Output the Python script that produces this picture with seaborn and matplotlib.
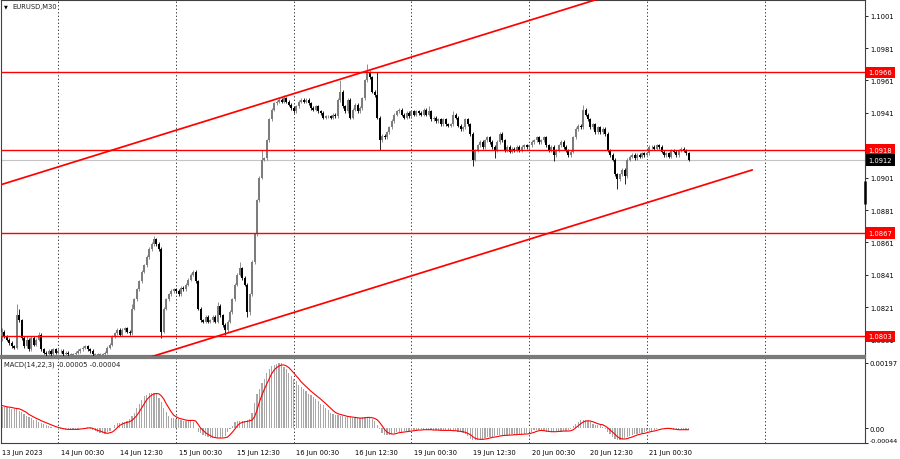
import matplotlib
matplotlib.use("Agg")
import matplotlib.pyplot as plt
import matplotlib.transforms as mtransforms
import numpy as np
import seaborn as sns

# ---------------- data (EURUSD M30) ----------------
first_open = 1.0803
closes = [
    1.0806, 1.0803, 1.0801, 1.0799, 1.0797, 1.0796, 1.0816, 1.0813, 1.0802, 1.0797, 1.0801, 1.0795,
    1.0802, 1.0798, 1.0801, 1.0804, 1.0795, 1.0793, 1.0792, 1.0794, 1.0792, 1.0795, 1.0793, 1.0794,
    1.0794, 1.0792, 1.0793, 1.0792, 1.0792, 1.0792, 1.0793, 1.0794, 1.0795, 1.0796, 1.0797, 1.0795,
    1.0794, 1.0792, 1.0792, 1.0792, 1.0792, 1.0792, 1.0793, 1.0796, 1.0798, 1.0803, 1.0805, 1.0807,
    1.0804, 1.0807, 1.0808, 1.0806, 1.0805, 1.0820, 1.0826, 1.0832, 1.0837, 1.0843, 1.0847, 1.0852,
    1.0857, 1.0860, 1.0863, 1.0860, 1.0857, 1.0806, 1.0820, 1.0826, 1.0829, 1.0831, 1.0832, 1.0831,
    1.0829, 1.0833, 1.0832, 1.0835, 1.0838, 1.0841, 1.0843, 1.0837, 1.0820, 1.0813, 1.0812, 1.0815,
    1.0812, 1.0813, 1.0815, 1.0812, 1.0822, 1.0816, 1.0810, 1.0807, 1.0812, 1.0818, 1.0826, 1.0835,
    1.0841, 1.0845, 1.0839, 1.0835, 1.0818, 1.0829, 1.0849, 1.0866, 1.0887, 1.0901, 1.0912, 1.0913,
    1.0924, 1.0937, 1.0943, 1.0947, 1.0948, 1.0949, 1.0948, 1.0950, 1.0948, 1.0946, 1.0944, 1.0942,
    1.0945, 1.0948, 1.0949, 1.0948, 1.0949, 1.0947, 1.0944, 1.0943, 1.0945, 1.0942, 1.0941, 1.0938,
    1.0939, 1.0939, 1.0938, 1.0940, 1.0939, 1.0949, 1.0954, 1.0945, 1.0942, 1.0949, 1.0938, 1.0943,
    1.0946, 1.0942, 1.0944, 1.0950, 1.0961, 1.0966, 1.0963, 1.0954, 1.0952, 1.0938, 1.0924, 1.0927,
    1.0926, 1.0929, 1.0932, 1.0936, 1.0940, 1.0942, 1.0943, 1.0940, 1.0938, 1.0941, 1.0939, 1.0942,
    1.0940, 1.0942, 1.0941, 1.0940, 1.0943, 1.0940, 1.0942, 1.0937, 1.0938, 1.0936, 1.0937, 1.0934,
    1.0937, 1.0934, 1.0933, 1.0934, 1.0940, 1.0938, 1.0933, 1.0931, 1.0932, 1.0937, 1.0934, 1.0928,
    1.0912, 1.0918, 1.0921, 1.0923, 1.0920, 1.0924, 1.0926, 1.0923, 1.0920, 1.0918, 1.0923, 1.0928,
    1.0924, 1.0918, 1.0920, 1.0917, 1.0919, 1.0918, 1.0920, 1.0918, 1.0920, 1.0921, 1.0920, 1.0921,
    1.0923, 1.0924, 1.0926, 1.0923, 1.0924, 1.0926, 1.0921, 1.0918, 1.0920, 1.0915, 1.0918, 1.0921,
    1.0923, 1.0920, 1.0918, 1.0915, 1.0917, 1.0926, 1.0931, 1.0933, 1.0932, 1.0943, 1.0940, 1.0937,
    1.0932, 1.0934, 1.0929, 1.0932, 1.0929, 1.0931, 1.0928, 1.0918, 1.0915, 1.0912, 1.0903, 1.0900,
    1.0903, 1.0906, 1.0902, 1.0912, 1.0914, 1.0915, 1.0913, 1.0915, 1.0914, 1.0916, 1.0915, 1.0916,
    1.0920, 1.0920, 1.0919, 1.0921, 1.0920, 1.0917, 1.0915, 1.0916, 1.0914, 1.0918, 1.0917, 1.0915,
    1.0918, 1.0919, 1.0918, 1.0916, 1.0912,
]
upper_wick_pips = [
    2, 1, 1, 1, 1, 1, 7, 4, 1, 1, 2, 1,
    1, 1, 1, 2, 1, 1, 1, 1, 1, 1, 1, 1,
    1, 1, 1, 1, 1, 1, 1, 1, 1, 1, 1, 1,
    1, 1, 1, 1, 1, 1, 1, 1, 1, 1, 1, 1,
    1, 1, 1, 1, 1, 3, 1, 1, 1, 1, 1, 1,
    1, 1, 2, 1, 1, 1, 1, 1, 1, 1, 1, 1,
    1, 1, 1, 1, 1, 1, 1, 1, 1, 1, 1, 1,
    1, 1, 1, 1, 2, 1, 1, 1, 1, 1, 1, 1,
    1, 4, 1, 1, 1, 1, 1, 1, 1, 1, 6, 1,
    1, 1, 1, 1, 1, 1, 1, 2, 1, 1, 1, 1,
    1, 1, 1, 1, 1, 1, 1, 1, 1, 1, 1, 1,
    1, 1, 1, 1, 1, 1, 7, 1, 1, 1, 1, 1,
    1, 1, 1, 1, 1, 5, 1, 1, 1, 14, 1, 1,
    1, 1, 1, 1, 1, 1, 1, 1, 1, 1, 1, 1,
    1, 1, 1, 1, 1, 1, 3, 1, 1, 1, 1, 1,
    1, 1, 1, 1, 2, 1, 1, 1, 1, 1, 1, 1,
    1, 1, 1, 1, 1, 1, 1, 1, 1, 1, 1, 1,
    1, 1, 1, 1, 1, 1, 1, 1, 1, 1, 1, 1,
    1, 1, 1, 1, 1, 1, 1, 1, 1, 1, 1, 1,
    1, 1, 1, 1, 1, 1, 1, 1, 1, 3, 1, 1,
    1, 1, 1, 1, 1, 1, 1, 1, 1, 1, 1, 1,
    1, 1, 1, 1, 1, 1, 1, 1, 1, 1, 1, 1,
    1, 1, 1, 1, 1, 1, 1, 1, 1, 1, 1, 1,
    1, 1, 1, 1, 1,
]
lower_wick_pips = [
    3, 1, 1, 1, 1, 1, 1, 1, 1, 1, 1, 1,
    1, 1, 1, 1, 1, 1, 1, 1, 1, 1, 1, 1,
    1, 1, 1, 1, 1, 1, 1, 1, 1, 1, 1, 1,
    1, 1, 1, 1, 1, 1, 1, 1, 1, 1, 1, 1,
    1, 1, 1, 1, 1, 1, 1, 1, 1, 1, 1, 1,
    1, 1, 1, 1, 1, 4, 1, 1, 1, 1, 1, 1,
    1, 1, 1, 1, 1, 1, 1, 1, 1, 1, 1, 1,
    1, 1, 1, 1, 1, 1, 1, 3, 1, 1, 1, 1,
    1, 1, 1, 1, 3, 2, 1, 1, 1, 1, 1, 1,
    1, 1, 1, 1, 1, 1, 1, 1, 1, 1, 1, 1,
    1, 1, 1, 1, 1, 1, 1, 1, 1, 1, 1, 1,
    1, 1, 1, 1, 1, 1, 1, 1, 1, 1, 1, 1,
    1, 1, 1, 1, 1, 1, 1, 1, 1, 1, 6, 1,
    1, 1, 1, 1, 1, 1, 1, 1, 1, 1, 1, 1,
    1, 1, 1, 1, 1, 1, 1, 1, 1, 1, 1, 1,
    1, 1, 1, 1, 1, 1, 1, 1, 1, 1, 1, 1,
    4, 1, 1, 1, 1, 1, 1, 1, 1, 5, 1, 1,
    1, 1, 1, 1, 1, 1, 1, 1, 1, 1, 1, 1,
    1, 1, 1, 1, 1, 1, 1, 1, 1, 4, 1, 1,
    1, 1, 1, 1, 1, 1, 1, 1, 1, 1, 1, 1,
    1, 1, 1, 1, 1, 1, 1, 1, 1, 1, 1, 6,
    1, 1, 5, 1, 1, 1, 1, 1, 1, 1, 1, 1,
    1, 1, 1, 1, 1, 1, 1, 1, 1, 1, 1, 1,
    1, 1, 1, 1, 1,
]
# MACD(14,22,3), values in units of 1e-5
macd_main_e5 = [
    65, 63, 63, 62, 59, 59, 58, 53, 48, 44, 36, 34,
    30, 26, 24, 19, 17, 14, 11, 8, 5, 2, 1, -1,
    -3, -3, -4, -3, -3, -3, -3, -1, 0, 1, 2, 3,
    -2, -6, -9, -10, -14, -15, -17, -11, -9, 1, 9, 16,
    17, 19, 20, 22, 28, 38, 47, 61, 74, 86, 98, 102,
    106, 108, 106, 103, 92, 78, 60, 50, 38, 30, 30, 27,
    27, 25, 23, 23, 24, 24, 20, 2, -10, -13, -20, -23,
    -26, -30, -30, -30, -29, -29, -27, -24, -12, -3, 7, 18,
    22, 21, 22, 22, 25, 27, 45, 75, 105, 120, 136, 150,
    166, 180, 187, 190, 193, 196, 197, 185, 178, 167, 159, 149,
    142, 130, 126, 119, 112, 105, 100, 94, 88, 82, 74, 69,
    61, 54, 47, 42, 40, 40, 38, 36, 34, 34, 33, 32,
    31, 30, 31, 33, 34, 33, 31, 28, 22, 10, -2, -14,
    -19, -19, -19, -17, -13, -11, -11, -10, -9, -8, -7, -6,
    -5, -4, -5, -3, -4, -4, -4, -6, -5, -5, -7, -6,
    -6, -6, -6, -8, -7, -9, -10, -11, -14, -18, -23, -31,
    -35, -34, -34, -33, -31, -30, -27, -25, -25, -24, -21, -21,
    -20, -21, -19, -20, -18, -19, -17, -18, -16, -17, -15, -12,
    -10, -6, -5, -5, -8, -9, -10, -11, -10, -10, -8, -9,
    -7, -8, -8, -6, -1, 8, 14, 20, 24, 25, 24, 21,
    18, 14, 11, 10, 10, 3, -3, -12, -17, -25, -32, -35,
    -34, -32, -30, -25, -24, -20, -17, -16, -14, -14, -11, -9,
    -7, -7, -4, -2, 0, 0, 1, 0, -2, -3, -4, -5,
    -4, -4, -4, -4, -5,
]
macd_signal_e5 = [
    69, 67, 65, 64, 63, 61, 60, 59, 56, 52, 48, 42,
    38, 34, 30, 27, 23, 20, 17, 14, 11, 8, 5, 3,
    1, -1, -2, -3, -3, -3, -3, -3, -2, -1, 0, 1,
    2, 0, -3, -6, -8, -11, -13, -15, -13, -11, -5, 2,
    9, 13, 16, 18, 20, 24, 31, 39, 50, 62, 74, 86,
    94, 100, 104, 105, 104, 98, 88, 74, 62, 50, 40, 35,
    31, 29, 27, 25, 24, 24, 24, 22, 12, 1, -6, -13,
    -18, -22, -26, -28, -29, -29, -29, -28, -26, -19, -11, -2,
    8, 15, 18, 20, 21, 23, 25, 35, 55, 80, 100, 118,
    134, 150, 165, 176, 183, 188, 191, 191, 188, 183, 175, 167,
    158, 150, 140, 133, 126, 119, 112, 106, 100, 94, 88, 81,
    75, 68, 61, 54, 48, 44, 42, 40, 38, 36, 35, 34,
    33, 32, 31, 31, 32, 33, 33, 32, 30, 26, 18, 8,
    -3, -11, -15, -17, -17, -15, -13, -12, -11, -10, -9, -8,
    -7, -6, -5, -5, -4, -4, -4, -4, -5, -5, -5, -6,
    -6, -6, -6, -6, -7, -7, -8, -9, -10, -12, -15, -19,
    -25, -30, -32, -33, -33, -32, -31, -29, -27, -26, -25, -23,
    -22, -21, -21, -20, -20, -19, -19, -18, -18, -17, -17, -16,
    -14, -12, -9, -7, -6, -7, -8, -9, -10, -10, -10, -9,
    -9, -8, -8, -8, -7, -4, 2, 8, 14, 19, 22, 23,
    22, 20, 17, 14, 12, 11, 7, 2, -5, -11, -18, -25,
    -30, -32, -32, -31, -28, -26, -23, -20, -18, -16, -15, -13,
    -11, -9, -8, -6, -4, -2, -1, 0, 0, -1, -2, -3,
    -4, -4, -4, -4, -4,
]
level_prices = [1.0966, 1.0918, 1.0867, 1.0803]
last_price = 1.0912
price_ticks = [1.1001, 1.0981, 1.0961, 1.0941, 1.0921, 1.0901, 1.0881, 1.0861, 1.0841, 1.0821, 1.0801]
macd_ticks = [0.00197, 0.0, -0.00044]
macd_tick_labels = ["0.00197", "0.00", "-0.00044"]
time_tick_bars = [0, 24, 48, 72, 96, 120, 144, 168, 192, 216, 240, 264]
time_tick_labels = ["13 Jun 2023", "14 Jun 00:30", "14 Jun 12:30", "15 Jun 00:30", "15 Jun 12:30",
                    "16 Jun 00:30", "16 Jun 12:30", "19 Jun 00:30", "19 Jun 12:30", "20 Jun 00:30",
                    "20 Jun 12:30", "21 Jun 00:30"]
day_separator_bars = [23, 71, 119, 167, 215, 263, 311]
channel_bars = [-1, 306]
channel_upper = [1.08964, 1.10409]
channel_lower = [1.07613, 1.09058]
scale_marker = [1.0899, 1.0885]
macd_header = "MACD(14,22,3) -0.00005 -0.00004"
symbol_header = "EURUSD,M30"

# ---------------- style ----------------
sns.set_style("white")
plt.rcParams['font.family'] = ['DejaVu Sans']
FS = 4.9
PIP = 0.0001

W, H = 900, 460
fig = plt.figure(figsize=(W / 100, H / 100), dpi=100, facecolor="white")
ax1 = fig.add_axes([1 / W, (H - 357) / H, 864 / W, 356 / H])
ax2 = fig.add_axes([1 / W, (H - 444) / H, 864 / W, 85 / H])
XLIM = (-0.41, 351.96)

# ---------------- candles ----------------
c = np.array(closes)
bars = np.arange(len(c))
o = np.array([first_open] + closes[:-1])
hi = np.maximum(o, c) + np.array(upper_wick_pips) * PIP
lo = np.minimum(o, c) - np.array(lower_wick_pips) * PIP
b_lo = np.minimum(o, c)
b_hi = np.maximum(o, c)
doji = (b_hi - b_lo) < 0.00004
b_lo = np.where(doji, b_lo - 0.00002, b_lo)
b_hi = np.where(doji, b_hi + 0.00002, b_hi)
bull = c >= o
BULL_COL, BEAR_COL = "#7c7c7c", "#000000"
ax1.vlines(bars[bull], lo[bull], hi[bull], colors=BULL_COL, lw=0.6, zorder=3)
ax1.vlines(bars[~bull], lo[~bull], hi[~bull], colors=BEAR_COL, lw=0.6, zorder=3)
ax1.vlines(bars[bull], b_lo[bull], b_hi[bull], colors=BULL_COL, lw=1.45, zorder=3)
ax1.vlines(bars[~bull], b_lo[~bull], b_hi[~bull], colors=BEAR_COL, lw=1.45, zorder=3)

# ---------------- lines ----------------
sep_style = dict(color="#404040", lw=0.7, ls=(0, (1.4, 2.2)), zorder=1)
for b in day_separator_bars:
    ax1.axvline(b, **sep_style)
    ax2.axvline(b, **sep_style)

ax1.axhline(last_price, color="#c4c4c4", lw=0.8, zorder=1)
for p in level_prices:
    ax1.axhline(p, color="#ff0000", lw=1.0, zorder=4)
sns.lineplot(x=channel_bars, y=channel_upper, color="#ff0000", lw=1.25, ax=ax1, zorder=4)
sns.lineplot(x=channel_bars, y=channel_lower, color="#ff0000", lw=1.25, ax=ax1, zorder=4)

ax1.set_xlim(*XLIM)
ax1.set_ylim(1.07909, 1.10107)

# marker on price scale
blend = mtransforms.blended_transform_factory(ax1.transAxes, ax1.transData)
ax1.plot([1.0, 1.0], scale_marker, transform=blend, color="black", lw=1.8, clip_on=False,
         solid_capstyle="butt", zorder=6)

# ---------------- price axis ----------------
ax1.yaxis.tick_right()
ax1.set_yticks(price_ticks)
ax1.set_yticklabels([f"{t:.4f}" for t in price_ticks])
ax1.tick_params(axis="y", length=2.2, width=0.6, pad=1.3, labelsize=FS, colors="black")
ax1.set_xticks([])
ax1.set_xlabel("")
ax1.set_ylabel("")

for p in level_prices:
    ax1.annotate(f"{p:.4f}", xy=(1, p), xycoords=("axes fraction", "data"),
                 xytext=(2.6, 0), textcoords="offset points", ha="left", va="center",
                 fontsize=FS, color="white", annotation_clip=False, zorder=10,
                 bbox=dict(boxstyle="square,pad=0.42", fc="#ff0000", ec="none"))
ax1.annotate(f"{last_price:.4f}", xy=(1, last_price), xycoords=("axes fraction", "data"),
             xytext=(2.6, 0), textcoords="offset points", ha="left", va="center",
             fontsize=FS, color="white", annotation_clip=False, zorder=10,
             bbox=dict(boxstyle="square,pad=0.42", fc="#000000", ec="none"))

# ---------------- MACD ----------------
main_vals = np.array(macd_main_e5) * 1e-5
sig_vals = np.array(macd_signal_e5) * 1e-5
sns.barplot(x=bars, y=main_vals, native_scale=True, color="#a8a8a8", width=0.5,
            linewidth=0, saturation=1, errorbar=None, ax=ax2, zorder=2)
sns.lineplot(x=bars, y=sig_vals, color="#ff0000", lw=0.8, ax=ax2, zorder=3)
ax2.set_xlim(*XLIM)
ax2.set_ylim(-0.00044, 0.00212)
ax2.yaxis.tick_right()
ax2.set_yticks(macd_ticks)
ax2.set_yticklabels(macd_tick_labels)
ax2.tick_params(axis="y", length=2.2, width=0.6, pad=1.0, labelsize=FS, colors="black")
ax2.get_yticklabels()[2].set_va("bottom")
ax2.get_yticklabels()[2].set_fontsize(4.6)
ax2.set_xticks(time_tick_bars)
ax2.set_xticklabels(time_tick_labels, ha="left")
ax2.tick_params(axis="x", length=3, width=0.6, pad=1.2, labelsize=FS, colors="black")
ax2.set_xlabel("")
ax2.set_ylabel("")
ax2.text(0.004, 0.93, macd_header, transform=ax2.transAxes, fontsize=FS, va="center",
         ha="left", color="#202020")

# ---------------- frames ----------------
for ax in (ax1, ax2):
    ax.set_facecolor("white")
    for s in ax.spines.values():
        s.set_visible(True)
        s.set_color("#404040")
        s.set_linewidth(0.8)
ax1.spines["bottom"].set_color("#7a7a7a")
ax1.spines["bottom"].set_linewidth(1.6)
ax2.spines["top"].set_color("#7a7a7a")
ax2.spines["top"].set_linewidth(1.6)

# ---------------- header ----------------
fig.text(4 / W, 1 - 7 / H, "\u25bc", fontsize=3.6, va="center", ha="left", color="black")
fig.text(12 / W, 1 - 7 / H, symbol_header, fontsize=FS, va="center", ha="left", color="#202020")

fig.savefig("out.png", dpi=100, facecolor="white")
